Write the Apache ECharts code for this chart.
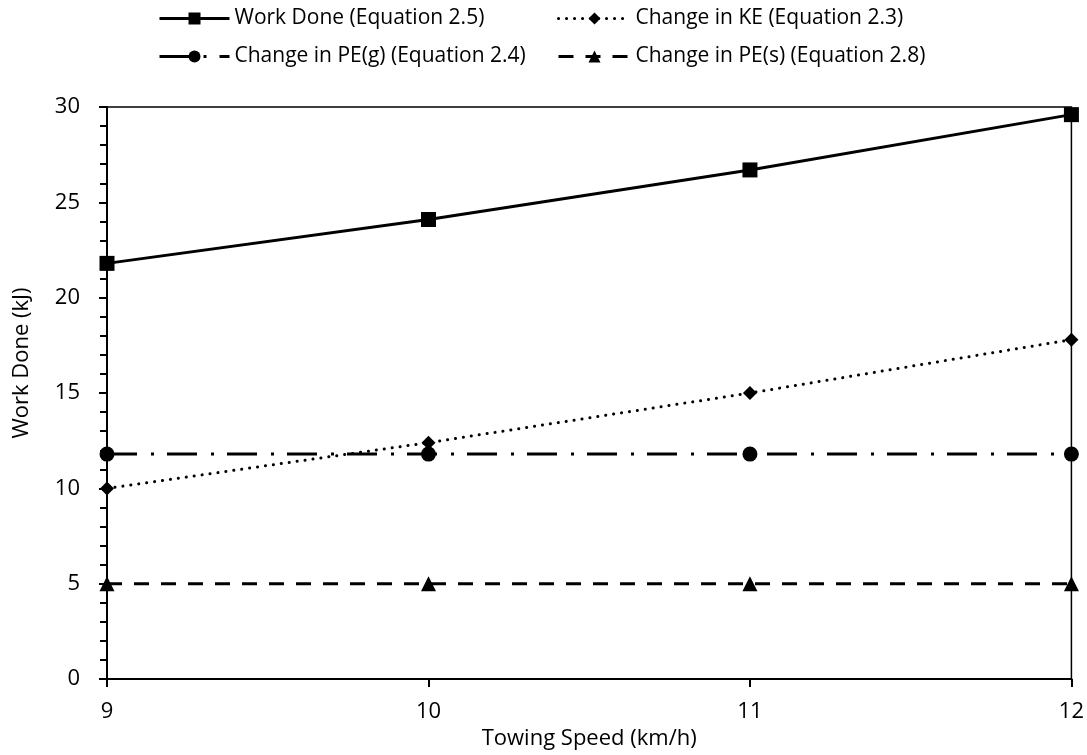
<!DOCTYPE html>
<html><head><meta charset="utf-8">
<script src="https://cdn.jsdelivr.net/npm/echarts@6/dist/echarts.min.js"></script>
<style>html,body{margin:0;padding:0;background:#fff}#c{width:1087px;height:755px}</style>
</head><body><div id="c"></div>
<script>
const speeds = [9, 10, 11, 12];
const workDone = [21.8, 24.1, 26.7, 29.6];
const changeKE = [10.0, 12.4, 15.0, 17.8];
const changePEg = [11.8, 11.8, 11.8, 11.8];
const changePEs = [5.0, 5.0, 5.0, 5.0];
const names = ['Work Done (Equation 2.5)', 'Change in KE (Equation 2.3)', 'Change in PE(g) (Equation 2.4)', 'Change in PE(s) (Equation 2.8)'];
const xTicks = [9, 10, 11, 12];
const yTicks = [0, 5, 10, 15, 20, 25, 30];

const FONT = 'Open Sans';
const pair = (xs, ys) => xs.map((x, i) => [x, ys[i]]);
const legendText = {fontFamily: FONT, fontSize: 21, color: '#000'};
const styles = [
  {width: 3, type: 'solid', cap: 'butt'},
  {width: 3, type: [0.1, 7.9], cap: 'round'},
  {width: 3, type: [30, 14, 3, 13], cap: 'butt'},
  {width: 3, type: [15, 12], cap: 'butt'}
];
function leg(i, left, top, w) {
  return {data: [names[i]], left: left, top: top, itemWidth: w, itemHeight: 15, itemGap: 0, padding: 0,
    textStyle: legendText, lineStyle: Object.assign({color: '#000'}, styles[i]), itemStyle: {color: '#000'}};
}
const chart = echarts.init(document.getElementById('c'), null, {renderer: 'canvas'});
chart.setOption({
  animation: false,
  backgroundColor: '#fff',
  legend: [leg(0, 158, 8, 70), leg(1, 557, 8, 72), leg(2, 158, 46, 70), leg(3, 557, 46, 72)],
  grid: {left: 107, right: 15, top: 107, bottom: 68, show: true, borderColor: '#000', borderWidth: 1.5, containLabel: false},
  xAxis: {
    type: 'value', min: 9, max: 12, interval: 1,
    name: 'Towing Speed (km/h)', nameLocation: 'middle', nameGap: 47,
    nameTextStyle: {fontFamily: FONT, fontSize: 22, color: '#000'},
    axisLine: {lineStyle: {color: '#000', width: 2}},
    axisTick: {show: true, inside: false, length: 8, lineStyle: {color: '#000', width: 2}},
    axisLabel: {fontFamily: FONT, fontSize: 22, color: '#000', margin: 22, formatter: v => xTicks.includes(v) ? String(v) : ''},
    splitLine: {show: false}
  },
  yAxis: {
    type: 'value', min: 0, max: 30, interval: 5,
    name: 'Work Done (kJ)', nameLocation: 'middle', nameGap: 74, nameRotate: 90,
    nameTextStyle: {fontFamily: FONT, fontSize: 22, color: '#000', padding: [0, 0, 0, 60]},
    axisLine: {show: true, lineStyle: {color: '#000', width: 2}},
    axisTick: {show: true, inside: false, length: 8, lineStyle: {color: '#000', width: 2}},
    minorTick: {show: true, splitNumber: 5, length: 7, lineStyle: {color: '#000', width: 2}},
    axisLabel: {fontFamily: FONT, fontSize: 22, color: '#000', margin: 27, formatter: v => yTicks.includes(v) ? String(v) : ''},
    splitLine: {show: false}
  },
  series: [
    {name: names[0], type: 'line', data: pair(speeds, workDone), symbol: 'rect', symbolSize: 15,
     itemStyle: {color: '#000'}, lineStyle: Object.assign({color: '#000'}, styles[0])},
    {name: names[1], type: 'line', data: pair(speeds, changeKE), symbol: 'diamond', symbolSize: 14,
     itemStyle: {color: '#000'}, lineStyle: Object.assign({color: '#000'}, styles[1])},
    {name: names[2], type: 'line', data: pair(speeds, changePEg), symbol: 'circle', symbolSize: 15,
     itemStyle: {color: '#000'}, lineStyle: Object.assign({color: '#000'}, styles[2])},
    {name: names[3], type: 'line', data: pair(speeds, changePEs), symbol: 'triangle', symbolSize: 15,
     itemStyle: {color: '#000'}, lineStyle: Object.assign({color: '#000'}, styles[3])}
  ]
});
</script></body></html>
